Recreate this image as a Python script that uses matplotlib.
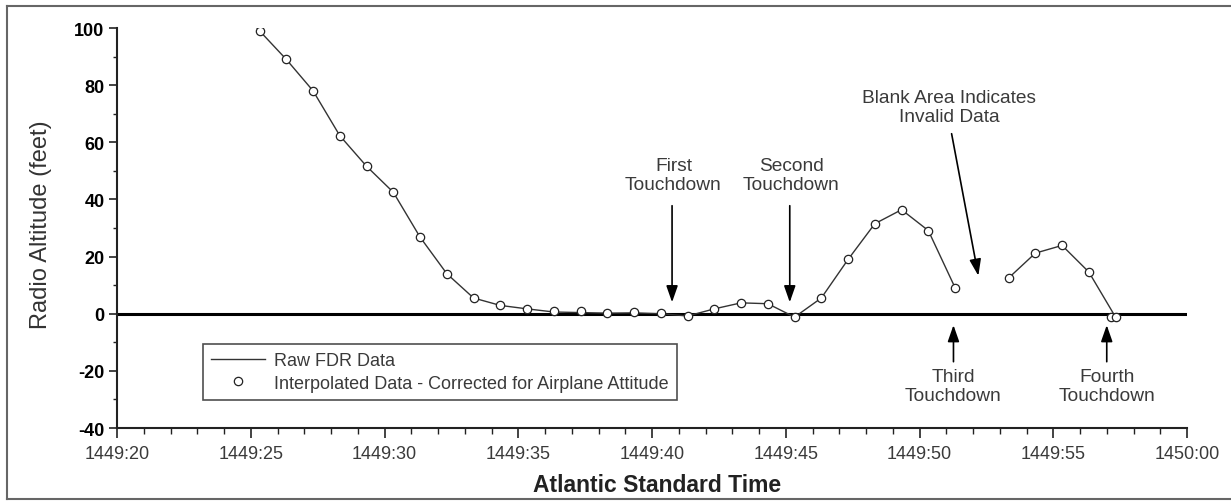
import numpy as np
import matplotlib
matplotlib.use("Agg")
import matplotlib.pyplot as plt
from matplotlib.lines import Line2D
from matplotlib.ticker import MultipleLocator, FuncFormatter

# time in seconds after 1449:20 AST
raw_t = [4.33, 5.33, 6.33, 7.33, 8.33, 9.33, 10.33, 11.33, 12.33, 13.33,
         14.33, 15.33, 16.33, 17.33, 18.33, 19.33, 20.33, 21.33, 22.33, 23.33,
         24.33, 25.33, 26.33, 27.33, 28.33, 29.33, 30.33, 31.33, 32.33,
         33.33, 34.33, 35.33, 36.33, 37.33]
raw_alt = [110, 99, 89, 78, 62.3, 51.6, 42.5, 26.8, 14, 5.5,
           2.9, 1.7, 0.6, 0.4, 0.2, 0.3, 0.0, -0.8, 1.7, 3.8,
           3.5, -1.2, 5.5, 19, 31.5, 36.4, 29.1, 9.1, np.nan,
           12.5, 21.2, 23.9, 14.6, -1.2]

interp_t = [5.33, 6.33, 7.33, 8.33, 9.33, 10.33, 11.33, 12.33, 13.33,
            14.33, 15.33, 16.33, 17.33, 18.33, 19.33, 20.33, 21.33, 22.33, 23.33,
            24.33, 25.33, 26.33, 27.33, 28.33, 29.33, 30.33, 31.33,
            33.33, 34.33, 35.33, 36.33, 37.15, 37.33]
interp_alt = [99, 89, 78, 62.3, 51.6, 42.5, 26.8, 14, 5.5,
              2.9, 1.7, 0.9, 1.0, 0.2, 0.6, 0.2, -0.8, 1.7, 3.8,
              3.5, -1.2, 5.5, 19, 31.5, 36.4, 29.1, 9.1,
              12.5, 21.2, 23.9, 14.6, -1.2, -1.2]

# (label, text x, text y, arrow tail, arrow tip)
notes = [
    ("First\nTouchdown", 20.8, 48.6, (20.75, 37.8), (20.75, 4.0)),
    ("Second\nTouchdown", 25.2, 48.6, (25.15, 37.8), (25.15, 4.0)),
    ("Blank Area Indicates\nInvalid Data", 31.1, 72.4, (31.2, 63.0), (32.2, 13.3)),
    ("Third\nTouchdown", 31.27, -25.3, (31.27, -16.8), (31.27, -4.0)),
    ("Fourth\nTouchdown", 37.0, -25.3, (37.0, -16.8), (37.0, -4.0)),
]

plt.rcParams["font.family"] = ["Liberation Sans", "DejaVu Sans"]
plt.rcParams["axes.unicode_minus"] = False

fig = plt.figure(figsize=(12.31, 5.02), dpi=100)
ax = fig.add_axes([117 / 1231, 1 - 429 / 502, 1070 / 1231, 400 / 502])

# outer border (left, top, bottom only)
x0, x1 = 7 / 1231, 1.0
y0, y1 = 2 / 502, 1 - 7 / 502
for xs, ys in [([x0, x0], [y0, y1]), ([x0, x1], [y1, y1]), ([x0, x1], [y0, y0])]:
    fig.add_artist(Line2D(xs, ys, transform=fig.transFigure, color="#666666", lw=1.5))

ax.axhline(0, color="black", lw=2.2, zorder=1)
ax.plot(raw_t, raw_alt, color="#333333", lw=1.0, label="Raw FDR Data", zorder=2)
ax.plot(interp_t, interp_alt, ls="none", marker="o", ms=6, mfc="white", mec="#222222",
        mew=0.9, label="Interpolated Data - Corrected for Airplane Attitude", zorder=3)

for label, tx, ty, tail, tip in notes:
    ax.text(tx, ty, label, ha="center", va="center", fontsize=13.8, color="#3a3a3a",
            linespacing=1.2)
    ax.annotate("", xy=tip, xytext=tail,
                arrowprops=dict(arrowstyle="-|>,head_length=1.0,head_width=0.35",
                                color="black", lw=1.2, shrinkA=0, shrinkB=0))

ax.set_xlim(0, 40)
ax.set_ylim(-40, 100)
ax.xaxis.set_major_locator(MultipleLocator(5))
ax.xaxis.set_minor_locator(MultipleLocator(1))
ax.yaxis.set_major_locator(MultipleLocator(20))
ax.yaxis.set_minor_locator(MultipleLocator(10))


def fmt_time(v, pos):
    s = 20 + int(round(v))
    return "1450:00" if s >= 60 else "1449:%02d" % s


ax.xaxis.set_major_formatter(FuncFormatter(fmt_time))

for side in ["top", "right"]:
    ax.spines[side].set_visible(False)
for side in ["left", "bottom"]:
    ax.spines[side].set_linewidth(1.5)
    ax.spines[side].set_color("#222222")

ax.tick_params(axis="x", which="major", length=7, width=1.2, pad=5, labelsize=13,
               labelcolor="#3a3a3a", color="#222222")
ax.tick_params(axis="x", which="minor", length=4, width=1.0, color="#222222")
ax.tick_params(axis="y", which="major", length=6, width=1.2, pad=3, labelsize=13,
               color="#222222")
ax.tick_params(axis="y", which="minor", length=3, width=1.0, color="#222222")
for lab in ax.get_yticklabels():
    lab.set_fontweight("bold")

ax.set_ylabel("Radio Altitude (feet)", fontsize=17, color="#333333")
ax.yaxis.set_label_coords(-0.071, 0.51)
ax.yaxis.label.set_verticalalignment("center")
ax.set_xlabel("Atlantic Standard Time", fontsize=16.5, fontweight="bold", color="#222222")
ax.xaxis.set_label_coords(0.505, -0.1425)
ax.xaxis.label.set_verticalalignment("center")

leg = ax.legend(loc="upper left", bbox_to_anchor=(0.0804, 0.21), borderaxespad=0,
                fontsize=13, frameon=True, fancybox=False, edgecolor="#222222",
                handlelength=3.0, handletextpad=0.5, borderpad=0.45, labelspacing=0.3)
leg.get_frame().set_linewidth(1.2)
for t in leg.get_texts():
    t.set_color("#3a3a3a")

fig.savefig("out.png", dpi=100)
